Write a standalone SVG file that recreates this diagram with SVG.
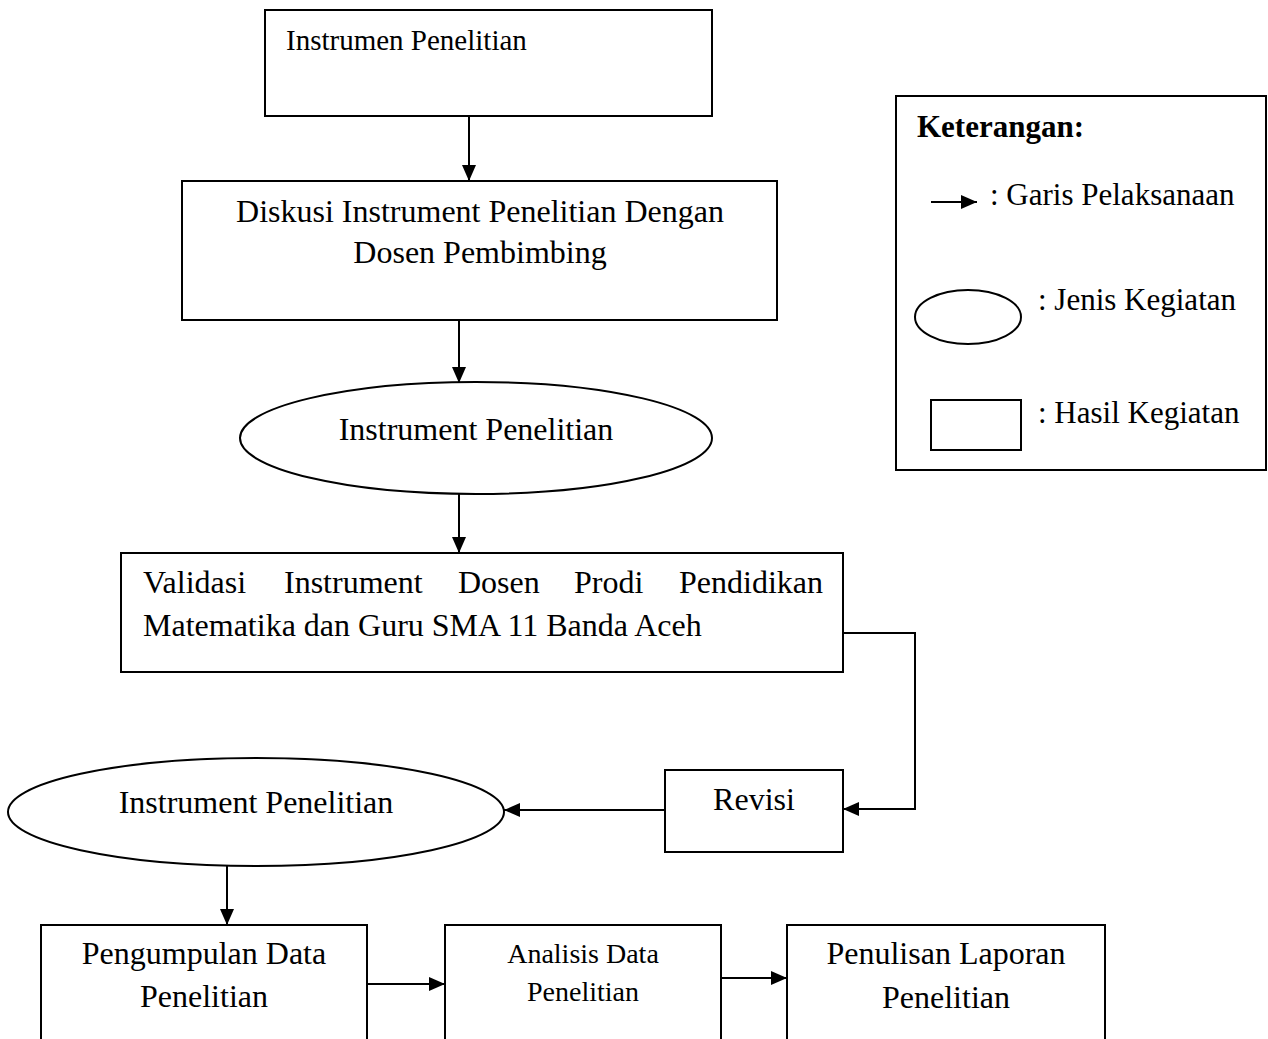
<svg xmlns="http://www.w3.org/2000/svg" width="1268" height="1039" viewBox="0 0 1268 1039">
<defs>
<style>
.box{fill:#fff;stroke:#000;stroke-width:2}
.ln{fill:none;stroke:#000;stroke-width:2}
.t{font-family:"Liberation Serif","Times New Roman",serif;font-size:32px;fill:#000}
.c{text-anchor:middle}
.b{font-weight:bold}
</style>
<marker id="ah" viewBox="0 0 16 14" markerWidth="16" markerHeight="14" refX="16" refY="7" orient="auto" markerUnits="userSpaceOnUse">
<path d="M0,0 L16,7 L0,14 z" fill="#000"/>
</marker>
</defs>
<rect width="1268" height="1039" fill="#fff"/>

<g id="connectors">
<line class="ln" x1="469" y1="116" x2="469" y2="181" marker-end="url(#ah)"/>
<line class="ln" x1="459" y1="320" x2="459" y2="383" marker-end="url(#ah)"/>
<line class="ln" x1="459" y1="494" x2="459" y2="553" marker-end="url(#ah)"/>
<polyline class="ln" points="843,633 915,633 915,809 843,809" marker-end="url(#ah)"/>
<line class="ln" x1="664" y1="810" x2="504" y2="810" marker-end="url(#ah)"/>
<line class="ln" x1="227" y1="866" x2="227" y2="925" marker-end="url(#ah)"/>
<line class="ln" x1="367" y1="984" x2="445" y2="984" marker-end="url(#ah)"/>
<line class="ln" x1="721" y1="978" x2="787" y2="978" marker-end="url(#ah)"/>
</g>

<g id="node-instrumen">
<rect class="box" x="265" y="10" width="447" height="106"/>
<text class="t" x="286" y="50" font-size="29" style="font-size:29px">Instrumen Penelitian</text>
</g>

<g id="node-diskusi">
<rect class="box" x="182" y="181" width="595" height="139"/>
<text class="t c" x="480" y="222">Diskusi Instrument Penelitian Dengan</text>
<text class="t c" x="480" y="263">Dosen Pembimbing</text>
</g>

<g id="node-ellipse1">
<ellipse class="box" cx="476" cy="438" rx="236" ry="56"/>
<text class="t c" x="476" y="440">Instrument Penelitian</text>
</g>

<g id="node-validasi">
<rect class="box" x="121" y="553" width="722" height="119"/>
<text class="t" y="593"><tspan x="143">Validasi</tspan><tspan x="284">Instrument</tspan><tspan x="458">Dosen</tspan><tspan x="574">Prodi</tspan><tspan x="679">Pendidikan</tspan></text>
<text class="t" x="143" y="636">Matematika dan Guru SMA 11 Banda Aceh</text>
</g>

<g id="node-revisi">
<rect class="box" x="665" y="770" width="178" height="82"/>
<text class="t c" x="754" y="810">Revisi</text>
</g>

<g id="node-ellipse2">
<ellipse class="box" cx="256" cy="812" rx="248" ry="54"/>
<text class="t c" x="256" y="813">Instrument Penelitian</text>
</g>

<g id="node-pengumpulan">
<rect class="box" x="41" y="925" width="326" height="130"/>
<text class="t c" x="204" y="964">Pengumpulan Data</text>
<text class="t c" x="204" y="1007">Penelitian</text>
</g>

<g id="node-analisis">
<rect class="box" x="445" y="925" width="276" height="130"/>
<text class="t c" x="583" y="963" style="font-size:28px">Analisis Data</text>
<text class="t c" x="583" y="1001" style="font-size:28px">Penelitian</text>
</g>

<g id="node-penulisan">
<rect class="box" x="787" y="925" width="318" height="130"/>
<text class="t c" x="946" y="964">Penulisan Laporan</text>
<text class="t c" x="946" y="1008">Penelitian</text>
</g>

<g id="legend">
<rect class="box" x="896" y="96" width="370" height="374"/>
<text class="t b" x="917" y="137" style="font-size:31px">Keterangan:</text>
<line class="ln" x1="931" y1="202" x2="977" y2="202" marker-end="url(#ah)"/>
<text class="t" x="990" y="205" style="font-size:31px">: Garis Pelaksanaan</text>
<ellipse class="box" cx="968" cy="317" rx="53" ry="27"/>
<text class="t" x="1038" y="310" style="font-size:31px">: Jenis Kegiatan</text>
<rect class="box" x="931" y="400" width="90" height="50"/>
<text class="t" x="1038" y="423" style="font-size:31px">: Hasil Kegiatan</text>
</g>
</svg>
